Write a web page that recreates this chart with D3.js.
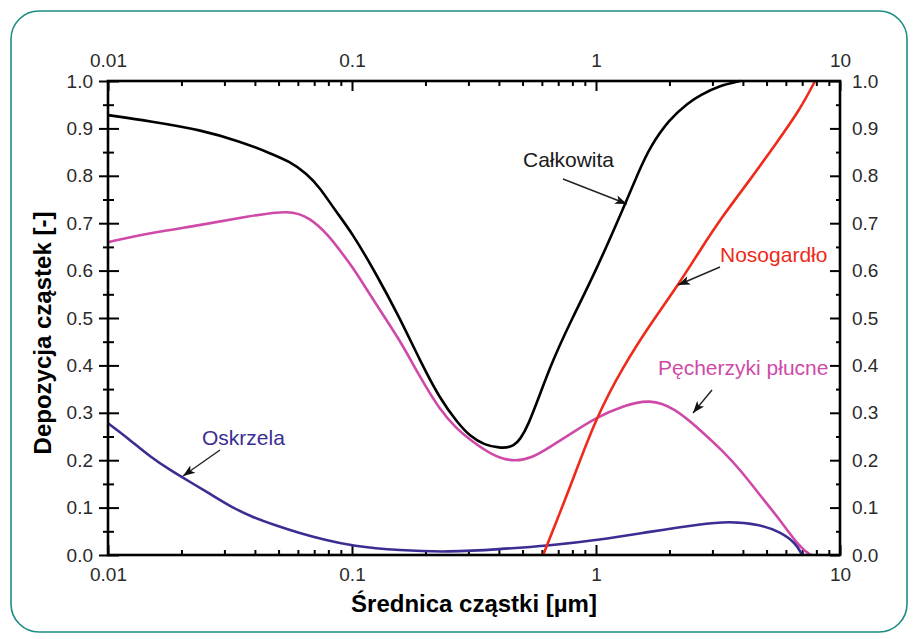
<!DOCTYPE html>
<html><head><meta charset="utf-8">
<script src="https://cdn.jsdelivr.net/npm/d3@7"></script>
<style>
html,body{margin:0;padding:0;background:#fff;}
svg{display:block;font-family:"Liberation Sans",Arial,sans-serif;}
</style></head>
<body>
<svg id="c" width="913" height="639"></svg>
<script>
// ---- data ----
const xTicks = [0.01, 0.1, 1, 10];
const yTicks = [0, 0.1, 0.2, 0.3, 0.4, 0.5, 0.6, 0.7, 0.8, 0.9, 1.0];
const yMinor = [0.05, 0.15, 0.25, 0.35, 0.45, 0.55, 0.65, 0.75, 0.85, 0.95];

const calkD = [0.01,0.015,0.024,0.035,0.045,0.0557,0.065,0.0739,0.085,0.1,0.125,0.157,0.19,0.229,0.27,0.305,0.35,0.40,0.46,0.52,0.648,0.8,1.0,1.31,1.5,1.66,2.0,2.4,2.67,3.2,3.9];
const calkV = [0.928,0.915,0.897,0.872,0.85,0.83,0.805,0.775,0.728,0.68,0.595,0.50,0.41,0.33,0.28,0.25,0.232,0.226,0.226,0.26,0.40,0.50,0.60,0.738,0.81,0.86,0.92,0.955,0.97,0.99,1.0];

const pecD = [0.01,0.015,0.024,0.038,0.0557,0.067,0.08,0.089,0.1,0.125,0.157,0.19,0.229,0.27,0.305,0.37,0.453,0.55,0.648,0.8,1.0,1.3,1.66,2.1,2.67,3.3,3.9,4.8,5.68,6.86,7.6];
const pecV = [0.66,0.68,0.696,0.715,0.728,0.712,0.675,0.643,0.61,0.53,0.454,0.375,0.306,0.265,0.243,0.212,0.196,0.205,0.228,0.258,0.29,0.315,0.329,0.31,0.264,0.22,0.18,0.12,0.074,0.015,0.0];

const oskD = [0.01,0.0123,0.0149,0.018,0.0217,0.0262,0.0316,0.0382,0.0483,0.0611,0.0773,0.1,0.157,0.25,0.40,0.648,1.03,1.66,2.67,3.5,4.66,5.68,6.6,7.0];
const oskV = [0.278,0.243,0.207,0.179,0.154,0.129,0.103,0.082,0.063,0.046,0.032,0.019,0.0095,0.006,0.012,0.020,0.032,0.049,0.065,0.071,0.065,0.049,0.025,0.0];

const nosD = [0.607,0.7,0.8,1.0,1.3,1.66,2.2,2.67,3.3,4.26,5.5,6.86,7.9];
const nosV = [0.0,0.08,0.156,0.29,0.40,0.485,0.574,0.643,0.715,0.79,0.87,0.94,1.0];

const seriesNames = ["Całkowita","Pęcherzyki płucne","Oskrzela","Nosogardło"];
const xTitle = "Średnica cząstki [µm]";
const yTitle = "Depozycja cząstek [-]";

// ---- layout ----
const L = 108, R = 840, T = 81, B = 555;
const svg = d3.select("#c");
const x = d3.scaleLog().domain([0.01, 10]).range([L, R]);
const y = d3.scaleLinear().domain([0, 1]).range([B, T]);

// border
svg.append("rect").attr("x", 11).attr("y", 11).attr("width", 896).attr("height", 621)
  .attr("rx", 28).attr("fill", "none").attr("stroke", "#1d8c82").attr("stroke-width", 1.6);

const xMinor = [];
[0.01, 0.1, 1].forEach(b => { for (let k = 2; k <= 9; k++) xMinor.push(b * k); });

const tickCol = "#2a2a2a";
const FS = 19;
function style(g, fs) {
  g.selectAll("text").attr("font-size", fs).attr("fill", tickCol)
    .attr("font-family", "'Liberation Sans', Arial, sans-serif");
  g.selectAll("line").attr("stroke", "#000").attr("stroke-width", 2);
  g.select(".domain").remove();
}

// bottom
let g = svg.append("g").attr("transform", `translate(0,${B})`)
  .call(d3.axisBottom(x).tickValues(xTicks).tickFormat(d3.format("~g")).tickSize(-10).tickPadding(13).tickSizeOuter(0));
style(g, FS);
g = svg.append("g").attr("transform", `translate(0,${B})`)
  .call(d3.axisBottom(x).tickValues(xMinor).tickFormat("").tickSize(-5).tickSizeOuter(0));
style(g, FS);
// top
g = svg.append("g").attr("transform", `translate(0,${T})`)
  .call(d3.axisTop(x).tickValues(xTicks).tickFormat(d3.format("~g")).tickSize(-10).tickPadding(14).tickSizeOuter(0));
style(g, FS);
g = svg.append("g").attr("transform", `translate(0,${T})`)
  .call(d3.axisTop(x).tickValues(xMinor).tickFormat("").tickSize(-5).tickSizeOuter(0));
style(g, FS);
// left
g = svg.append("g").attr("transform", `translate(${L},0)`)
  .call(d3.axisLeft(y).tickValues(yTicks).tickFormat(d3.format(".1f")).tickSize(9).tickPadding(6).tickSizeOuter(0));
style(g, FS);
g.selectAll("line").attr("x1", 11);
g = svg.append("g").attr("transform", `translate(${L},0)`)
  .call(d3.axisLeft(y).tickValues(yMinor).tickFormat("").tickSize(5).tickSizeOuter(0));
style(g, FS);
g.selectAll("line").attr("x1", 6);
// right
g = svg.append("g").attr("transform", `translate(${R},0)`)
  .call(d3.axisRight(y).tickValues(yTicks).tickFormat(d3.format(".1f")).tickSize(-10).tickPadding(12).tickSizeOuter(0));
style(g, FS);
g = svg.append("g").attr("transform", `translate(${R},0)`)
  .call(d3.axisRight(y).tickValues(yMinor).tickFormat("").tickSize(-4).tickSizeOuter(0));
style(g, FS);

// curves
const line = d3.line().x(d => x(d[0])).y(d => y(d[1])).curve(d3.curveBasis);
const zip = (a, b) => a.map((v, i) => [v, b[i]]);
const series = [
  {d: zip(pecD, pecV), c: "#cf4aa8"},
  {d: zip(oskD, oskV), c: "#3a2e92"},
  {d: zip(calkD, calkV), c: "#000000"},
  {d: zip(nosD, nosV), c: "#ee2a1b"}
];
const plot = svg.append("g");
series.forEach(s => plot.append("path").attr("d", line(s.d)).attr("fill", "none")
  .attr("stroke", s.c).attr("stroke-width", 2.6).attr("stroke-linejoin", "round"));

// frame
svg.append("rect").attr("x", L).attr("y", T).attr("width", R - L).attr("height", B - T)
  .attr("fill", "none").attr("stroke", "#000").attr("stroke-width", 2.6);

// arrows
svg.append("defs").append("marker").attr("id", "ah").attr("viewBox", "0 0 12 10")
  .attr("refX", 12).attr("refY", 5).attr("markerWidth", 13).attr("markerHeight", 10)
  .attr("markerUnits", "userSpaceOnUse").attr("orient", "auto")
  .append("path").attr("d", "M0,0.5 L12,5 L0,9.5 L3,5 Z").attr("fill", "#111");

const ann = [
  {t: seriesNames[0], c: "#1a1a1a", tx: 523, ty: 167, a: [[563,179],[627,204]]},
  {t: seriesNames[3], c: "#ee2a1b", tx: 720, ty: 262, a: [[720,267],[678,285]]},
  {t: seriesNames[1], c: "#cf4aa8", tx: 658, ty: 375, a: [[712,390],[693,413]]},
  {t: seriesNames[2], c: "#3a2e92", tx: 202, ty: 445, a: [[220,450],[183,476]]}
];
ann.forEach(a => {
  svg.append("text").attr("x", a.tx).attr("y", a.ty).attr("fill", a.c)
    .attr("font-size", 21).text(a.t);
  svg.append("line").attr("x1", a.a[0][0]).attr("y1", a.a[0][1]).attr("x2", a.a[1][0]).attr("y2", a.a[1][1])
    .attr("stroke", "#222").attr("stroke-width", 1.4).attr("marker-end", "url(#ah)");
});

// titles
svg.append("text").attr("x", (L + R) / 2).attr("y", 612).attr("text-anchor", "middle")
  .attr("font-size", 24).attr("font-weight", "bold").attr("fill", "#000").text(xTitle);
svg.append("text").attr("transform", `translate(51,333) rotate(-90)`).attr("text-anchor", "middle")
  .attr("font-size", 24).attr("font-weight", "bold").attr("fill", "#000").text(yTitle);
</script>
</body></html>
